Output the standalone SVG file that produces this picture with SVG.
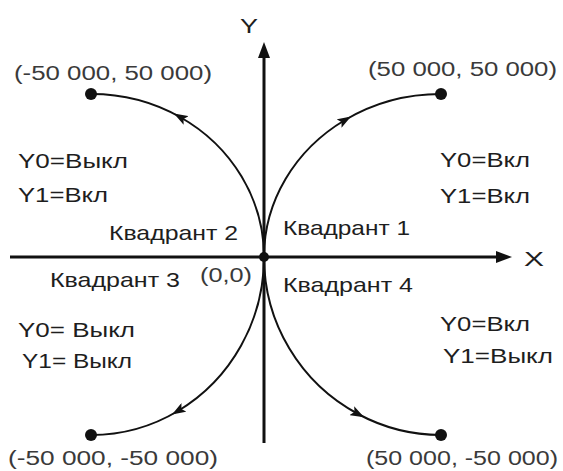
<svg xmlns="http://www.w3.org/2000/svg" width="563" height="471" viewBox="0 0 563 471">
<style>
text{font-family:"Liberation Sans",Arial,sans-serif;font-size:21px;fill:#1e1e1e}
.c{fill:#3a3a3a;font-size:20px}
.axis{stroke:#111;stroke-width:3;fill:none}
.arc{stroke:#111;stroke-width:2;fill:none;marker-mid:url(#m)}
.dot{fill:#111}
</style>
<defs>
<marker id="m" viewBox="0 0 14 10" refX="7" refY="5" markerWidth="14" markerHeight="10" markerUnits="userSpaceOnUse" orient="auto"><path d="M0,0 L14,5 L0,10 L3,5 Z" fill="#111"/></marker>
<marker id="ax" viewBox="0 0 16 12" refX="2" refY="6" markerWidth="16" markerHeight="12" markerUnits="userSpaceOnUse" orient="auto"><path d="M0,0 L16,6 L0,12 Z" fill="#111"/></marker>
</defs>
<g id="axes">
<line class="axis" x1="10" y1="257" x2="498" y2="257" marker-end="url(#ax)"/>
<line class="axis" x1="264" y1="443" x2="264" y2="56" marker-end="url(#ax)"/>
<text x="240" y="33" textLength="18" lengthAdjust="spacingAndGlyphs">Y</text>
<text x="524" y="266" textLength="20" lengthAdjust="spacingAndGlyphs">X</text>
</g>
<g id="connectors">
<path class="arc" d="M264,257 A173,163 0 0,0 180,117 A173,163 0 0,0 91,94"/>
<path class="arc" d="M264,257 A177,163 0 0,1 345,120 A177,163 0 0,1 441,94"/>
<path class="arc" d="M264,257 A173,178 0 0,1 178,411 A173,178 0 0,1 91,435"/>
<path class="arc" d="M264,257 A177,178 0 0,0 358,414 A177,178 0 0,0 441,435"/>
</g>
<g id="origin"><circle class="dot" cx="264" cy="257" r="5"/><text class="c" x="200" y="282" textLength="52" lengthAdjust="spacingAndGlyphs">(0,0)</text></g>
<g id="p1"><circle class="dot" cx="441" cy="94" r="6"/><text class="c" x="368" y="76" textLength="189" lengthAdjust="spacingAndGlyphs">(50 000,  50 000)</text></g>
<g id="p2"><circle class="dot" cx="91" cy="94" r="6"/><text class="c" x="14" y="80" textLength="198" lengthAdjust="spacingAndGlyphs">(-50 000,  50 000)</text></g>
<g id="p3"><circle class="dot" cx="91" cy="435" r="6"/><text class="c" x="8" y="465" textLength="210" lengthAdjust="spacingAndGlyphs">(-50 000,  -50 000)</text></g>
<g id="p4"><circle class="dot" cx="441" cy="435" r="6"/><text class="c" x="366" y="465" textLength="192" lengthAdjust="spacingAndGlyphs">(50 000,  -50 000)</text></g>
<g id="q1">
<text x="283" y="235" textLength="127" lengthAdjust="spacingAndGlyphs">Квадрант 1</text>
<text x="440" y="167" textLength="90" lengthAdjust="spacingAndGlyphs">Y0=Вкл</text>
<text x="440" y="203" textLength="90" lengthAdjust="spacingAndGlyphs">Y1=Вкл</text>
</g>
<g id="q2">
<text x="109" y="240" textLength="129" lengthAdjust="spacingAndGlyphs">Квадрант 2</text>
<text x="18" y="168" textLength="110" lengthAdjust="spacingAndGlyphs">Y0=Выкл</text>
<text x="18" y="202" textLength="90" lengthAdjust="spacingAndGlyphs">Y1=Вкл</text>
</g>
<g id="q3">
<text x="50" y="287" textLength="130" lengthAdjust="spacingAndGlyphs">Квадрант 3</text>
<text x="18" y="337" textLength="117" lengthAdjust="spacingAndGlyphs">Y0= Выкл</text>
<text x="22" y="368" textLength="110" lengthAdjust="spacingAndGlyphs">Y1= Выкл</text>
</g>
<g id="q4">
<text x="283" y="292" textLength="130" lengthAdjust="spacingAndGlyphs">Квадрант 4</text>
<text x="440" y="331" textLength="90" lengthAdjust="spacingAndGlyphs">Y0=Вкл</text>
<text x="443" y="363" textLength="110" lengthAdjust="spacingAndGlyphs">Y1=Выкл</text>
</g>
</svg>
